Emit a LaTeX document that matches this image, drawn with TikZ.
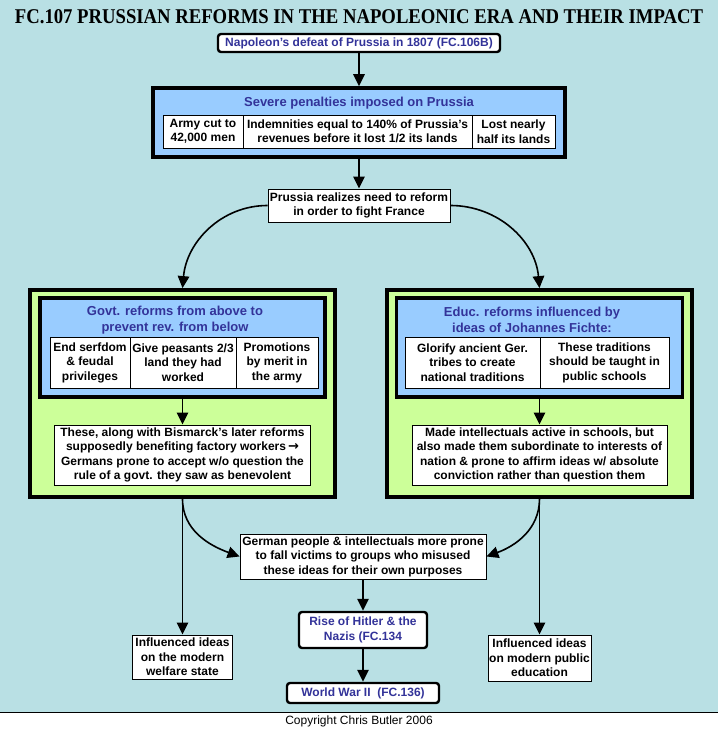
\documentclass[tikz,border=0pt]{standalone}
\usepackage{fontspec}
\setmainfont{Liberation Sans}
\newfontfamily\titlefont{Liberation Serif}
\newfontfamily\symfont{DejaVu Sans}
\usetikzlibrary{arrows.meta}

\definecolor{bgcyan}{RGB}{185,224,228}
\definecolor{panelblue}{RGB}{153,204,255}
\definecolor{panelgreen}{RGB}{204,255,153}
\definecolor{textblue}{RGB}{51,51,153}

\tikzset{
  txt/.style={font=\fontsize{12}{14.5}\selectfont\bfseries, align=center, inner sep=0pt},
  cell/.style={txt, draw, fill=white, line width=0.9pt},
  keybox/.style={txt, draw, fill=white, line width=2.4pt, rounded corners=3pt, text=textblue},
  panel/.style={draw, line width=3.8pt, inner sep=0pt},
  head/.style={txt, text=textblue, font=\fontsize{13}{16}\selectfont\bfseries},
  arr/.style={line width=1.6pt, -{Triangle[length=12pt,width=11.5pt]}},
}

\begin{document}
\begin{tikzpicture}[x=1pt,y=1pt]
   \useasboundingbox (0,0) rectangle (718,729);
   \fill[bgcyan] (0,17) rectangle (718,729);
   \draw[line width=0.8pt] (0,17) -- (718,17);
   \node[font=\fontsize{12}{12}\selectfont] (copyright) at (359,8) {Copyright Chris Butler 2006};

   %% Titel
   \node (title) at (359,712) {\scalebox{0.89}[1]{\titlefont\bfseries\fontsize{21}{21}\selectfont FC.107 PRUSSIAN REFORMS IN THE NAPOLEONIC ERA AND THEIR IMPACT}};
   \node[keybox, minimum width=282pt, minimum height=18pt] (napoleon) at (359,686) {Napoleon’s defeat of Prussia in 1807 (FC.106B)};

   %% Strafen
   \node[panel, fill=panelblue, minimum width=412pt, minimum height=69pt] (penalties) at (359,606.5) {};
   \node[head] (penhead) at (359,626) {Severe penalties imposed on Prussia};
   \node[cell, minimum width=80pt, minimum height=33pt] (army) at (203,597.5) {Army cut to\\42,000 men};
   \node[cell, minimum width=229pt, minimum height=33pt] (indemnities) at (357.5,597.5) {Indemnities equal to 140\% of Prussia’s\\revenues before it lost 1/2 its lands};
   \node[cell, minimum width=83pt, minimum height=33pt] (lost) at (513.5,597.5) {Lost nearly\\half its lands};

   \node[cell, minimum width=182pt, minimum height=33pt] (realize) at (359,523.5) {Prussia realizes need to reform\\in order to fight France};

   %% Regierung
   \node[panel, fill=panelgreen, minimum width=305pt, minimum height=207pt] (govt) at (182.5,335.5) {};
   \node[panel, fill=panelblue, minimum width=285pt, minimum height=99pt] (govtin) at (182.5,381.5) {};
   \node[head] (govthead) at (175,409) {Govt. reforms from above to\\prevent rev. from below};
   \node[cell, minimum width=80pt, minimum height=51pt] (serfdom) at (90,366.5) {End serfdom\\\& feudal\\privileges};
   \node[cell, minimum width=106pt, minimum height=51pt] (peasants) at (183,366.5) {Give peasants 2/3\\land they had\\worked};
   \node[cell, minimum width=82pt, minimum height=51pt] (promotions) at (277,366.5) {Promotions\\by merit in\\the army};
   \node[cell, minimum width=256pt, minimum height=60pt] (govtres) at (182.5,274) {These, along with Bismarck’s later reforms\\supposedly benefiting factory workers\,{\symfont\bfseries\fontsize{13}{14.5}\selectfont →}\\Germans prone to accept w/o question the\\rule of a govt. they saw as benevolent};

   %% Bildung
   \node[panel, fill=panelgreen, minimum width=305pt, minimum height=207pt] (educ) at (539.5,335.5) {};
   \node[panel, fill=panelblue, minimum width=286pt, minimum height=99pt] (educin) at (539.5,381.5) {};
   \node[head] (educhead) at (532,409) {Educ. reforms influenced by\\ideas of Johannes Fichte:};
   \node[cell, minimum width=135pt, minimum height=51pt] (glorify) at (472.5,366.5) {Glorify ancient Ger.\\tribes to create\\national traditions};
   \node[cell, minimum width=129pt, minimum height=51pt] (traditions) at (604.5,366.5) {These traditions\\should be taught in\\public schools};
   \node[cell, minimum width=255pt, minimum height=60pt] (educres) at (539.5,274) {Made intellectuals active in schools, but\\also made them subordinate to interests of\\nation \& prone to affirm ideas w/ absolute\\conviction rather than question them};

   %% Folgen
   \node[cell, minimum width=246pt, minimum height=45pt] (german) at (363,172.5) {German people \& intellectuals more prone\\to fall victims to groups who misused\\these ideas for their own purposes};
   \node[cell, minimum width=100pt, minimum height=44pt] (welfare) at (182.5,72) {Influenced ideas\\on the modern\\welfare state};
   \node[cell, minimum width=103pt, minimum height=46pt] (public) at (539.5,71) {Influenced ideas\\on modern public\\education};
   \node[keybox, minimum width=128pt, minimum height=36pt] (hitler) at (363,99) {Rise of Hitler \& the\\Nazis (FC.134};
   \node[keybox, minimum width=152pt, minimum height=20pt] (wwii) at (363,36) {World War II\ \ (FC.136)};

   %% Pfeile
   \draw[arr] (napoleon) -- (penalties);
   \draw[arr] (penalties) -- (realize);
   \draw[arr] (realize.west) to[out=180,in=85] (govt.north);
   \draw[arr] (realize.east) to[out=0,in=95] (educ.north);
   \draw[arr] (govtin) -- (govtres);
   \draw[arr] (educin) -- (educres);
   \draw[arr] (govt) -- (welfare);
   \draw[arr] (govt.south) to[out=-90,in=160] (german.west);
   \draw[arr] (educ) -- (public);
   \draw[arr] (educ.south) to[out=-90,in=20] (german.east);
   \draw[arr] (german) -- (hitler);
   \draw[arr] (hitler) -- (wwii);
  \end{tikzpicture}
\end{document}
